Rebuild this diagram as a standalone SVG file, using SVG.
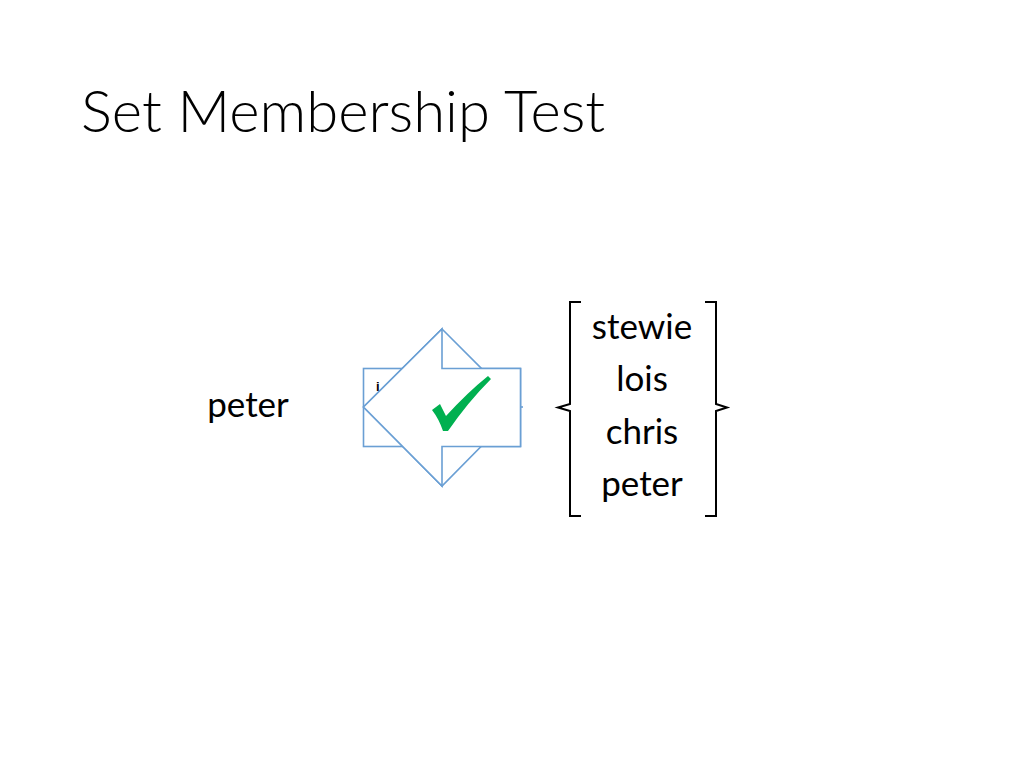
<svg xmlns="http://www.w3.org/2000/svg" width="1024" height="768" viewBox="0 0 1024 768">
<style>
.title{font-family:Lato,"Open Sans","Liberation Sans",sans-serif;font-weight:300;font-size:58px;fill:#000}
.body{font-family:Lato,"Open Sans","Liberation Sans",sans-serif;font-size:35px;fill:#000}
.shape{fill:#fff;stroke:#6A9FD4;stroke-width:1.6}
.brace{fill:none;stroke:#000;stroke-width:2}
</style>
<rect width="1024" height="768" fill="#fff"/>
<g id="title"><text class="title" x="81" y="132">Set Membership Test</text></g>
<g id="input"><text class="body" x="248" y="417" text-anchor="middle">peter</text></g>
<g id="test">
<rect class="shape" x="363.5" y="368.5" width="157" height="78"/>
<polygon class="shape" points="442,329 520,407 442,486 363.5,407"/>
<text x="376" y="391" font-family="Liberation Sans,sans-serif" font-size="13" font-weight="bold" fill="#000">i</text>
<line x1="520" y1="407" x2="523" y2="407" stroke="#6A9FD4" stroke-width="1.6"/>
<polygon class="shape" points="363.5,407 442,329 442,368.5 520.5,368.5 520.5,446.5 442,446.5 442,486"/>
<path d="M432,410 L440,404 L446,416 Q468,392 488,376 L491,379 Q468,402 448,431 L443,431 Q439,419 432,410 Z" fill="#00B050"/>
</g>
<g id="set">
<path class="brace" d="M581,302 L570,302 L570,404 L558,407.5 L570,411 L570,516 L581,516"/>
<path class="brace" d="M705,302 L716,302 L716,404 L727,407.5 L716,411 L716,516 L705,516"/>
<text class="body" x="642" y="339" text-anchor="middle">stewie</text>
<text class="body" x="642" y="391" text-anchor="middle">lois</text>
<text class="body" x="642" y="444" text-anchor="middle">chris</text>
<text class="body" x="642" y="496" text-anchor="middle">peter</text>
</g>
<g id="connectors"/>
</svg>
